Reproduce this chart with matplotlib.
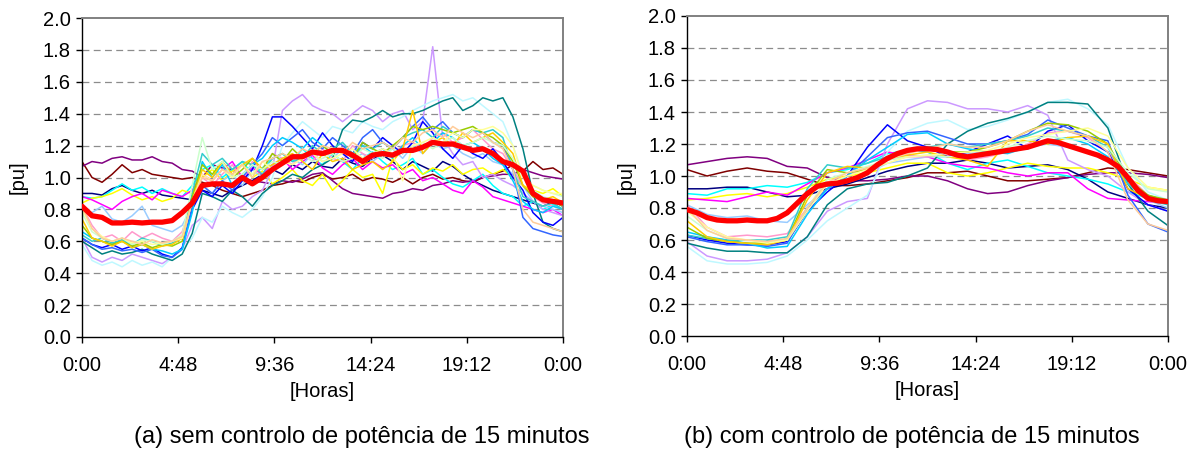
import matplotlib
matplotlib.use("Agg")
import matplotlib.pyplot as plt
import numpy as np

plt.rcParams['font.family'] = ['Liberation Sans', 'DejaVu Sans']

# ---------------- data ----------------
hours_half = [i * 0.5 for i in range(49)]   # 0:00 .. 24:00, half-hour steps
hours_full = list(range(25))                # 0:00 .. 24:00, hourly steps

x_tick_pos = [0, 4.8, 9.6, 14.4, 19.2, 24]
x_tick_labels = ["0:00", "4:48", "9:36", "14:24", "19:12", "0:00"]
y_ticks = [0.0, 0.2, 0.4, 0.6, 0.8, 1.0, 1.2, 1.4, 1.6, 1.8, 2.0]

# (a) without 15-minute power control (half-hourly readings)
maroon_a = [1.10,1.00,0.97,1.02,1.08,1.03,1.05,1.02,1.01,1.00,
            0.99,1.00,0.97,0.95,0.92,0.90,0.88,0.90,0.92,0.95,
            0.96,0.98,0.97,1.00,1.02,0.99,1.00,1.02,0.98,1.00,
            0.99,0.97,1.00,0.96,1.00,1.02,0.99,1.00,0.98,0.97,
            1.00,1.02,1.04,1.08,1.04,1.10,1.05,1.06,1.02]
purple_a = [1.07,1.10,1.09,1.12,1.13,1.11,1.11,1.13,1.10,1.09,
            1.05,1.04,1.00,1.08,1.06,1.05,1.00,0.98,0.97,0.96,
            0.98,0.97,0.99,1.02,1.03,0.98,0.93,0.90,0.89,0.88,
            0.87,0.90,0.91,0.93,0.92,0.95,0.96,0.98,0.97,0.98,
            1.00,1.01,1.02,1.02,1.05,1.03,1.01,1.00,0.99]
navy_a = [0.90,0.90,0.89,0.93,0.95,0.92,0.90,0.92,0.89,0.88,
          0.87,0.86,0.92,0.90,0.88,0.92,0.95,0.98,1.02,1.05,
          1.02,1.08,1.05,1.10,1.07,1.06,1.12,1.09,1.07,1.12,
          1.14,1.10,1.05,1.10,1.07,1.04,1.10,1.07,1.02,0.98,
          0.95,0.92,0.90,0.88,0.86,0.84,0.82,0.85,0.82]
cyan_a = [0.88,0.87,0.88,0.92,0.96,0.92,0.94,0.90,0.93,0.90,
          0.88,0.95,1.05,1.08,1.00,1.05,1.10,1.02,1.06,1.12,
          1.15,1.10,1.18,1.12,1.08,1.15,1.10,1.05,1.12,1.16,
          1.10,1.05,1.08,1.12,1.02,1.05,1.00,0.96,0.94,0.98,
          1.02,0.95,0.90,0.88,0.82,0.85,0.80,0.83,0.80]
yellow_a = [0.84,0.87,0.88,0.90,0.93,0.89,0.86,0.88,0.85,0.87,
            0.92,0.90,1.00,1.05,0.98,1.04,1.08,1.00,1.04,0.96,
            1.00,1.05,0.98,0.95,1.02,0.92,0.98,1.05,1.00,1.02,
            0.90,1.12,1.05,1.08,1.02,1.06,1.04,1.08,1.02,1.05,
            1.06,1.02,1.05,1.00,0.95,0.92,0.90,0.93,0.88]
magenta_a = [0.88,0.86,0.83,0.80,0.85,0.88,0.90,0.86,0.92,0.90,
             0.88,0.92,1.02,0.98,1.05,1.10,1.00,1.06,1.02,1.08,
             1.12,1.05,1.10,1.14,1.06,1.02,1.08,1.12,1.05,1.10,
             1.06,1.08,1.02,1.05,0.98,1.00,0.96,0.92,0.90,0.98,
             0.94,0.88,0.86,0.84,0.82,0.80,0.78,0.80,0.76]
paleblue_a = [0.80,0.78,0.82,0.74,0.72,0.76,0.82,0.70,0.68,0.66,
              0.70,0.82,0.95,0.90,0.98,1.02,0.95,1.05,1.00,1.08,
              1.10,1.12,1.08,1.15,1.10,1.12,1.18,1.12,1.15,1.10,
              1.15,1.18,1.12,1.20,1.15,1.22,1.18,1.20,1.15,1.12,
              1.15,1.10,1.08,1.02,0.95,0.85,0.82,0.80,0.78]
rose_a = [0.82,0.70,0.62,0.64,0.60,0.66,0.62,0.65,0.62,0.60,
          0.66,0.85,1.00,0.95,1.02,1.08,0.98,1.10,1.05,1.15,
          1.12,1.08,1.15,1.10,1.18,1.12,1.10,1.20,1.15,1.12,
          1.18,1.15,1.20,1.22,1.18,1.25,1.28,1.22,1.25,1.30,
          1.24,1.18,1.15,1.05,0.95,0.88,0.84,0.82,0.80]
lavender_a = [0.62,0.50,0.47,0.50,0.48,0.52,0.50,0.48,0.46,0.50,
              0.55,0.70,0.75,0.68,0.85,0.80,0.82,0.88,0.92,1.05,
              1.42,1.48,1.52,1.45,1.42,1.40,1.35,1.40,1.45,1.42,
              1.35,1.40,1.42,1.30,1.35,1.82,1.25,1.15,1.08,1.10,
              1.00,1.02,0.98,0.95,0.90,0.85,0.80,0.78,0.76]
lightturq_a = [0.58,0.48,0.45,0.47,0.44,0.48,0.45,0.47,0.44,0.50,
               0.55,0.62,0.75,0.72,0.82,0.78,0.75,0.80,0.88,1.00,
               1.20,1.28,1.35,1.30,1.25,1.32,1.30,1.28,1.35,1.32,
               1.30,1.35,1.38,1.42,1.45,1.48,1.50,1.52,1.48,1.50,
               1.45,1.40,1.35,1.20,1.02,0.92,0.88,0.86,0.85]
teal_a = [0.60,0.56,0.52,0.54,0.52,0.53,0.55,0.52,0.50,0.48,
          0.52,0.65,0.90,0.88,0.85,0.92,0.88,0.82,0.90,0.95,
          0.98,1.02,1.00,1.05,1.08,1.12,1.30,1.36,1.35,1.38,
          1.42,1.38,1.40,1.40,1.42,1.45,1.48,1.50,1.42,1.45,
          1.50,1.48,1.50,1.38,1.18,0.90,0.72,0.68,0.66]
blue_a = [0.62,0.58,0.56,0.58,0.55,0.57,0.54,0.56,0.52,0.50,
          0.56,0.80,0.92,0.88,0.95,0.90,0.98,1.05,1.20,1.38,
          1.38,1.32,1.25,1.18,1.28,1.20,1.15,1.10,1.22,1.18,
          1.25,1.20,1.15,1.22,1.35,1.28,1.18,1.12,1.20,1.15,
          1.12,1.18,1.10,1.00,0.92,0.78,0.72,0.70,0.75]
royal_a = [0.62,0.58,0.55,0.56,0.54,0.55,0.53,0.55,0.51,0.50,
           0.55,0.82,0.95,0.90,0.98,0.92,1.00,1.08,1.15,1.25,
           1.20,1.25,1.30,1.22,1.18,1.25,1.20,1.15,1.25,1.30,
           1.22,1.18,1.25,1.32,1.38,1.30,1.35,1.28,1.25,1.30,
           1.28,1.22,1.20,1.05,0.75,0.68,0.66,0.64,0.63]
sky_a = [0.66,0.62,0.60,0.58,0.62,0.56,0.58,0.55,0.54,0.52,
         0.55,0.78,1.10,1.00,1.08,0.95,1.02,1.08,1.12,1.20,
         1.25,1.22,1.18,1.25,1.20,1.15,1.18,1.12,1.20,1.15,
         1.18,1.12,1.20,1.25,1.18,1.22,1.28,1.25,1.20,1.22,
         1.18,1.12,1.08,0.98,0.85,0.80,0.78,0.82,0.80]
aqua_a = [0.64,0.60,0.62,0.59,0.61,0.58,0.62,0.60,0.57,0.59,
          0.62,0.90,1.15,1.08,1.12,1.05,1.10,1.08,1.02,1.12,
          1.15,1.10,1.12,1.20,1.15,1.18,1.22,1.15,1.20,1.18,
          1.22,1.18,1.25,1.28,1.30,1.25,1.32,1.28,1.25,1.30,
          1.28,1.30,1.25,1.05,0.88,0.85,0.82,0.84,0.80]
lime_a = [0.70,0.62,0.60,0.58,0.60,0.57,0.59,0.56,0.58,0.57,
          0.60,0.88,1.08,1.02,1.10,1.00,1.05,1.12,1.05,1.15,
          1.10,1.18,1.12,1.15,1.20,1.15,1.18,1.12,1.22,1.18,
          1.15,1.20,1.25,1.32,1.30,1.32,1.30,1.28,1.30,1.32,
          1.28,1.25,1.20,1.10,0.95,0.88,0.86,0.85,0.82]
gold_a = [0.74,0.62,0.60,0.57,0.60,0.56,0.58,0.55,0.57,0.58,
          0.62,0.85,1.05,1.00,1.10,1.02,1.08,1.12,1.05,1.08,
          1.12,1.15,1.10,1.05,1.15,1.10,1.12,1.05,1.08,1.10,
          1.05,1.10,1.18,1.42,1.15,1.22,1.25,1.20,1.28,1.22,
          1.25,1.28,1.22,1.15,0.95,0.90,0.86,0.88,0.84]
lightgreen_a = [0.78,0.66,0.62,0.60,0.62,0.58,0.61,0.60,0.58,0.60,
                0.64,0.95,1.25,1.05,1.10,1.00,1.02,1.08,1.05,1.10,
                1.08,1.12,1.15,1.10,1.12,1.15,1.10,1.12,1.18,1.15,
                1.12,1.18,1.15,1.20,1.22,1.18,1.22,1.25,1.20,1.22,
                1.25,1.22,1.20,1.12,1.00,0.95,0.92,0.90,0.88]
lightyellow_a = [0.80,0.68,0.63,0.60,0.62,0.59,0.60,0.58,0.59,0.60,
                 0.62,0.85,1.02,0.98,1.05,1.00,1.08,1.02,1.10,1.05,
                 1.10,1.08,1.12,1.15,1.10,1.12,1.15,1.18,1.12,1.15,
                 1.18,1.15,0.98,1.20,1.22,1.25,1.22,1.28,1.25,1.30,
                 1.30,1.32,1.28,1.20,1.00,0.95,0.92,0.90,0.90]
tan_a = [0.82,0.68,0.62,0.60,0.62,0.60,0.58,0.61,0.59,0.60,
         0.63,0.85,1.00,0.98,1.05,1.02,1.08,1.00,1.10,1.12,
         1.15,1.12,1.18,1.15,1.20,1.18,1.15,1.22,1.18,1.20,
         1.22,1.18,1.25,1.22,1.28,1.30,1.25,1.32,1.28,1.25,
         1.28,1.22,1.18,1.05,0.80,0.72,0.70,0.68,0.66]
mean_a = [0.82,0.76,0.75,0.715,0.715,0.72,0.715,0.72,0.72,0.73,
          0.78,0.84,0.95,0.96,0.96,0.95,1.00,0.96,1.00,1.05,
          1.09,1.13,1.13,1.16,1.15,1.17,1.17,1.14,1.10,1.14,
          1.15,1.14,1.17,1.17,1.19,1.22,1.21,1.21,1.19,1.17,
          1.18,1.15,1.10,1.08,1.04,0.90,0.86,0.85,0.84]

# (b) with 15-minute power control (hourly readings)
maroon_b = [1.04,1.00,1.03,1.05,1.03, 1.02,0.98,0.94,0.94,0.95, 0.97,0.99,1.02,1.02,1.03,
            1.00,0.97,0.97,0.98,0.99, 1.02,1.05,1.04,1.02,1.00]
purple_b = [1.07,1.09,1.11,1.12,1.11, 1.06,1.05,0.99,0.97,0.97, 0.98,1.00,1.00,0.97,0.92,
            0.89,0.90,0.94,0.97,0.99, 1.01,1.02,1.02,1.01,0.99]
navy_b = [0.92,0.92,0.93,0.93,0.90, 0.87,0.88,0.92,0.95,0.99, 1.03,1.06,1.08,1.08,1.10,
          1.08,1.05,1.06,1.07,1.04, 0.98,0.90,0.86,0.82,0.80]
cyan_b = [0.89,0.88,0.92,0.92,0.94, 0.93,0.96,1.02,1.04,1.08, 1.14,1.16,1.15,1.08,1.04,
          1.08,1.10,1.06,1.02,1.00, 0.98,0.95,0.90,0.86,0.85]
yellow_b = [0.85,0.86,0.88,0.89,0.87, 0.89,0.93,0.98,1.00,1.02, 1.05,1.08,1.08,1.02,1.00,
            1.02,1.05,1.08,1.06,1.05, 1.05,1.02,0.98,0.93,0.91]
magenta_b = [0.86,0.85,0.84,0.87,0.90, 0.88,0.95,1.02,1.05,1.10, 1.15,1.13,1.12,1.08,1.06,
             1.05,1.02,1.00,1.02,1.02, 0.92,0.86,0.85,0.84,0.83]
paleblue_b = [0.82,0.76,0.74,0.75,0.72, 0.71,0.82,0.92,0.98,1.02, 1.08,1.10,1.12,1.12,1.14,
              1.15,1.16,1.18,1.20,1.18, 1.15,1.10,1.00,0.85,0.80]
rose_b = [0.82,0.68,0.62,0.63,0.62, 0.64,0.80,0.95,1.00,1.05, 1.10,1.12,1.12,1.13,1.10,
          1.12,1.15,1.20,1.27,1.28, 1.24,1.15,1.00,0.88,0.82]
lavender_b = [0.59,0.50,0.47,0.47,0.48, 0.52,0.62,0.78,0.84,0.86, 1.20,1.42,1.47,1.46,1.42,
              1.42,1.40,1.44,1.38,1.10, 1.04,1.00,0.90,0.82,0.78]
lightturq_b = [0.56,0.47,0.45,0.45,0.46, 0.50,0.60,0.72,0.80,0.88, 1.15,1.28,1.33,1.35,1.29,
               1.31,1.35,1.40,1.46,1.48, 1.42,1.32,1.05,0.90,0.85]
teal_b = [0.58,0.55,0.53,0.53,0.52, 0.52,0.62,0.82,0.92,0.95, 0.96,1.00,1.05,1.20,1.28,
          1.33,1.36,1.40,1.46,1.46, 1.45,1.30,0.95,0.78,0.69]
blue_b = [0.63,0.60,0.58,0.57,0.57, 0.59,0.78,0.90,1.00,1.18, 1.32,1.22,1.18,1.12,1.15,
          1.20,1.25,1.17,1.28,1.32, 1.22,1.15,0.92,0.82,0.78]
royal_b = [0.62,0.59,0.57,0.57,0.56, 0.58,0.80,0.92,1.00,1.12, 1.24,1.27,1.28,1.24,1.20,
           1.20,1.22,1.26,1.35,1.30, 1.25,1.22,0.88,0.70,0.65]
sky_b = [0.65,0.62,0.60,0.58,0.55, 0.56,0.76,0.92,1.00,1.10, 1.18,1.26,1.27,1.20,1.17,
         1.15,1.14,1.18,1.22,1.24, 1.20,1.12,0.95,0.88,0.84]
aqua_b = [0.63,0.61,0.60,0.60,0.60, 0.62,0.92,1.07,1.05,1.08, 1.12,1.15,1.18,1.20,1.18,
          1.20,1.22,1.25,1.30,1.28, 1.25,1.18,0.95,0.85,0.82]
lime_b = [0.68,0.61,0.59,0.58,0.58, 0.60,0.88,1.04,1.02,1.04, 1.10,1.15,1.17,1.15,1.15,
          1.18,1.22,1.28,1.33,1.32, 1.28,1.20,0.98,0.88,0.85]
gold_b = [0.72,0.62,0.59,0.58,0.57, 0.60,0.85,1.02,1.06,1.05, 1.10,1.13,1.15,1.12,1.10,
          1.06,1.22,1.22,1.20,1.24, 1.25,1.20,0.92,0.86,0.84]
lightgreen_b = [0.75,0.66,0.61,0.60,0.59, 0.60,0.80,0.98,1.02,1.06, 1.10,1.12,1.13,1.12,1.13,
                1.15,1.18,1.22,1.25,1.23, 1.22,1.18,1.02,0.92,0.90]
lightyellow_b = [0.78,0.68,0.62,0.60,0.58, 0.60,0.78,0.95,1.00,1.04, 1.08,1.12,1.13,1.14,1.15,
                 1.16,1.20,1.24,1.26,1.28, 1.30,1.25,1.05,0.93,0.91]
tan_b = [0.80,0.66,0.61,0.60,0.59, 0.61,0.80,0.96,1.02,1.05, 1.10,1.14,1.17,1.20,1.18,
         1.18,1.22,1.28,1.32,1.28, 1.25,1.15,0.85,0.70,0.66]
mean_b = [0.79,0.77,0.74,0.725,0.72,0.72,0.725,0.72,0.72,0.735,
          0.77,0.83,0.89,0.935,0.95,0.955,0.97,0.99,1.02,1.07,
          1.11,1.14,1.16,1.17,1.17,1.165,1.15,1.13,1.12,1.13,
          1.14,1.15,1.16,1.17,1.18,1.20,1.22,1.21,1.19,1.17,
          1.15,1.13,1.10,1.06,0.99,0.91,0.86,0.845,0.84]

series_a = [maroon_a, purple_a, navy_a, cyan_a, yellow_a, magenta_a, paleblue_a, rose_a,
            lavender_a, lightturq_a, teal_a, blue_a, royal_a, sky_a, aqua_a, lime_a,
            gold_a, lightgreen_a, lightyellow_a, tan_a]
series_b = [maroon_b, purple_b, navy_b, cyan_b, yellow_b, magenta_b, paleblue_b, rose_b,
            lavender_b, lightturq_b, teal_b, blue_b, royal_b, sky_b, aqua_b, lime_b,
            gold_b, lightgreen_b, lightyellow_b, tan_b]

# ---------------- style ----------------
colors = ['#800000', '#800080', '#000080', '#00FFFF', '#FFFF00', '#FF00FF', '#99CCFF', '#FF99CC',
          '#CC99FF', '#BFF8FF', '#008080', '#0000FF', '#3366FF', '#00CCFF', '#33CCCC', '#99CC00',
          '#FFCC00', '#CCFFCC', '#FFFF99', '#FFCC99']

fig = plt.figure(figsize=(11.96, 4.51), dpi=100)
ax_a = fig.add_axes([82/1196, (451-337)/451, (563-82)/1196, (337-18)/451])
ax_b = fig.add_axes([687/1196, (451-336)/451, (1168-687)/1196, (336-16)/451])

TICK_FS = 14.5


def style_axes(ax):
    ax.set_xlim(0, 24)
    ax.set_ylim(0, 2.0)
    ax.set_yticks(y_ticks)
    ax.set_yticklabels([f"{v:.1f}" for v in y_ticks])
    ax.set_xticks(x_tick_pos)
    ax.set_xticklabels(x_tick_labels)
    for v in y_ticks[1:-1]:
        ax.axhline(v, color='#8c8c8c', lw=0.9, ls=(0, (5.5, 3.5)), zorder=0)
    ax.spines['left'].set_color('black')
    ax.spines['bottom'].set_color('black')
    ax.spines['left'].set_linewidth(1.0)
    ax.spines['bottom'].set_linewidth(1.0)
    ax.spines['top'].set_color('#808080')
    ax.spines['right'].set_color('#808080')
    ax.spines['top'].set_linewidth(1.4)
    ax.spines['right'].set_linewidth(1.4)
    ax.tick_params(axis='both', direction='out', length=4, width=1.0,
                   labelsize=TICK_FS, colors='black')
    ax.tick_params(axis='x', pad=10)
    ax.tick_params(axis='y', pad=4)
    ax.set_xlabel('[Horas]', fontsize=TICK_FS, labelpad=5)


for ax, series, xs_s, mean in ((ax_a, series_a, hours_half, mean_a),
                               (ax_b, series_b, hours_full, mean_b)):
    style_axes(ax)
    for s, c in zip(series, colors):
        ax.plot(xs_s, s, color=c, lw=1.1, zorder=2, solid_joinstyle='round')
    ax.plot(hours_half, mean, color='#FF0000', lw=3.8, zorder=5,
            solid_joinstyle='round', solid_capstyle='round')

fig.text(18/1196, 1 - 177/451, '[pu]', rotation=90, fontsize=TICK_FS, ha='center', va='center')
fig.text(626/1196, 1 - 177/451, '[pu]', rotation=90, fontsize=TICK_FS, ha='center', va='center')

fig.text(362/1196, 1 - 437/451, '(a) sem controlo de potência de 15 minutos',
         fontsize=17, ha='center', va='center')
fig.text(912/1196, 1 - 437/451, '(b) com controlo de potência de 15 minutos',
         fontsize=17, ha='center', va='center')

fig.savefig('out.png', dpi=100)
